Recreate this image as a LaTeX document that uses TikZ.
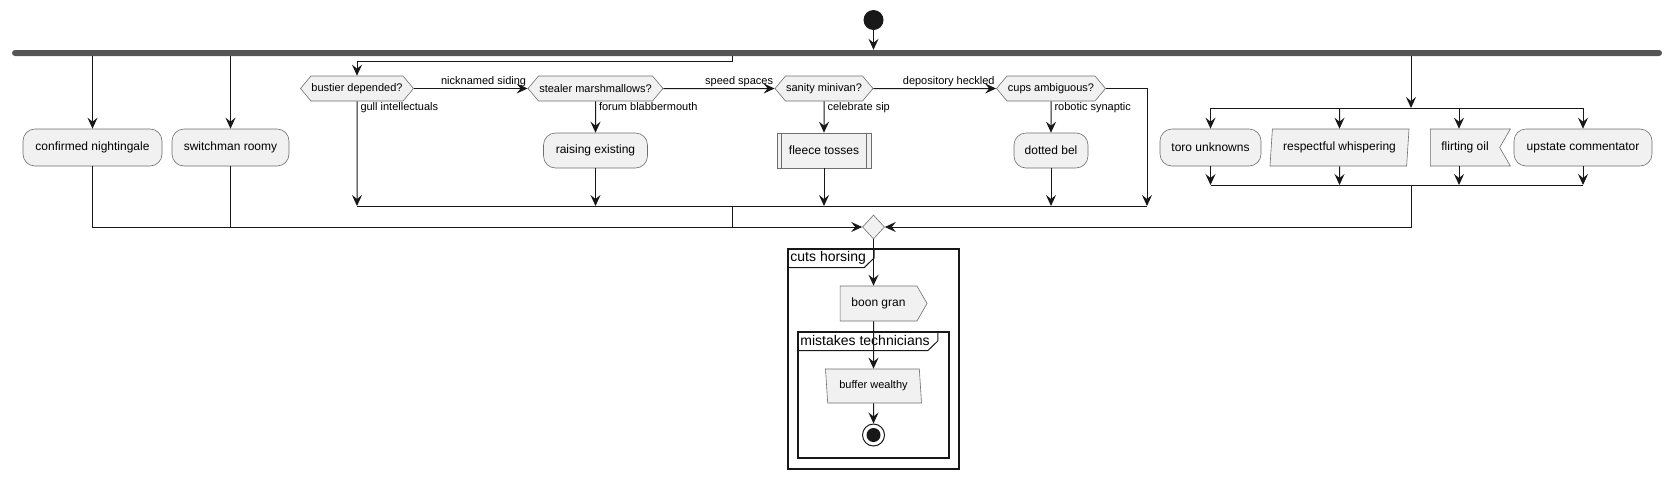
\documentclass[tikz,border=0pt]{standalone}
\usepackage{fontspec}
\setmainfont{Liberation Sans}
\usetikzlibrary{arrows.meta, shapes.geometric, shapes.symbols, positioning}

\definecolor{boxfill}{RGB}{241,241,241}
\definecolor{boxline}{RGB}{110,110,110}
\definecolor{ink}{RGB}{24,24,24}
\definecolor{barfill}{RGB}{85,85,85}

\begin{document}
\begin{tikzpicture}[x=1pt, y=-1pt,
    every node/.style={font=\fontsize{12}{14}\selectfont},
    flow/.style={draw=ink, line width=1pt, -{Stealth[length=11pt, width=10pt, inset=4pt]}},
    wire/.style={draw=ink, line width=1pt},
    box/.style={draw=boxline, fill=boxfill, line width=0.6pt, inner sep=0pt},
    act/.style={box, rounded corners=12pt, minimum height=37pt},
    sub/.style={box, minimum height=35pt},
    dec/.style={box, signal, signal to=east and west, signal pointer angle=100,
        minimum height=25pt, font=\fontsize{11}{13}\selectfont},
    send/.style={box, signal, signal to=east, signal pointer angle=120, minimum height=35pt},
    recv/.style={box, signal, signal to=nowhere, signal from=east, signal pointer angle=120, minimum height=37pt},
    io/.style 2 args={box, trapezium, trapezium stretches body, trapezium left angle=#1,
        trapezium right angle=#2},
    lbl/.style={font=\fontsize{11}{13}\selectfont, inner sep=1pt},
    frame/.style={draw=ink, line width=1.5pt, inner sep=0pt},
    grouptitle/.style={font=\fontsize{14}{16}\selectfont, minimum height=19pt, inner xsep=3pt, inner ysep=0pt},
    tab/.style={draw=ink, line width=1pt}]
    \useasboundingbox (0,0) rectangle (1673,480);

    \node[circle, fill=ink, minimum size=20pt, inner sep=0pt] (start) at (873.5,20) {};
    \node[fill=barfill, rounded corners=3pt, minimum width=1650pt, minimum height=6pt, inner sep=0pt] (fork) at (837,53) {};
    \draw[flow] (start) -- (fork.north -| start);

    % left branches
    \node[act, minimum width=139pt] (cn) at (92.5,147.5) {confirmed nightingale};
    \node[act, minimum width=117pt] (sr) at (230.5,147.5) {switchman roomy};
    \draw[flow] (fork.south -| cn) -- (cn);
    \draw[flow] (fork.south -| sr) -- (sr);

    % decision chain
    \node[dec, minimum width=113pt] (bd) at (357,88.5) {bustier depended?};
    \node[dec, minimum width=135pt] (sm) at (595.5,88.5) {stealer marshmallows?};
    \node[dec, minimum width=98pt] (sv) at (824,88.5) {sanity minivan?};
    \node[dec, minimum width=109pt] (ca) at (1051,88.5) {cups ambiguous?};
    \node[act, minimum width=104pt, minimum height=35pt] (re) at (595.5,150.5) {raising existing};
    \node[sub, minimum width=94pt] (ft) at (824,150.5) {fleece tosses};
    \node[act, minimum width=74pt, minimum height=35pt] (db) at (1051,150.5) {dotted bel};
    \draw[boxline, line width=0.6pt] ([xshift=5pt]ft.north west) -- ([xshift=5pt]ft.south west)
        ([xshift=-5pt]ft.north east) -- ([xshift=-5pt]ft.south east);

    \coordinate (b3) at (732,61);
    \coordinate (join) at (732,206);
    \coordinate (jr) at (1147,206);
    \draw[flow] (fork.south -| b3) -- (b3) -| (bd);
    \draw[flow] (bd) -- node[lbl, pos=1, anchor=south east] {nicknamed siding} (sm);
    \draw[flow] (sm) -- node[lbl, pos=1, anchor=south east] {speed spaces} (sv);
    \draw[flow] (sv) -- node[lbl, pos=1, anchor=south east] {depository heckled} (ca);
    \draw[flow] (bd) -- node[lbl, pos=0, anchor=north west, xshift=2pt] {gull intellectuals} (bd |- join);
    \draw[flow] (sm) -- node[lbl, pos=0, anchor=north west, xshift=2pt] {forum blabbermouth} (re);
    \draw[flow] (sv) -- node[lbl, pos=0, anchor=north west, xshift=2pt] {celebrate sip} (ft);
    \draw[flow] (ca) -- node[lbl, pos=0, anchor=north west, xshift=2pt] {robotic synaptic} (db);
    \draw[flow] (re) -- (re |- join);
    \draw[flow] (ft) -- (ft |- join);
    \draw[flow] (db) -- (db |- join);
    \draw[flow] (ca) -| (jr);
    \draw[wire] (bd |- join) -- (jr);

    % right branches
    \node[act, minimum width=101pt] (tu) at (1210.5,147.5) {toro unknowns};
    \node[io={78}{102}, minimum width=139pt, minimum height=37pt] (rw) at (1339.5,147.5) {respectful whispering};
    \node[recv, minimum width=80pt] (fo) at (1465,147.5) {flirting oil};
    \node[act, minimum width=138pt] (uc) at (1583,147.5) {upstate commentator};
    \coordinate (rsplit) at (1411,108);
    \coordinate (rjoin) at (1411,185);
    \coordinate (fox) at (1459,147.5);
    \draw[flow] (fork.south -| rsplit) -- (rsplit);
    \draw[wire] (tu |- rsplit) -- (uc |- rsplit);
    \draw[wire] (tu |- rjoin) -- (uc |- rjoin);
    \draw[flow] (tu |- rsplit) -- (tu);
    \draw[flow] (rw |- rsplit) -- (rw);
    \draw[flow] (fox |- rsplit) -- (fox |- fo.north);
    \draw[flow] (uc |- rsplit) -- (uc);
    \draw[flow] (tu) -- (tu |- rjoin);
    \draw[flow] (rw) -- (rw |- rjoin);
    \draw[flow] (fox |- fo.south) -- (fox |- rjoin);
    \draw[flow] (uc) -- (uc |- rjoin);

    % merge
    \node[box, diamond, minimum width=22pt, minimum height=24pt] (merge) at (873.5,227) {};
    \draw[flow] (cn) |- (merge);
    \draw[wire] (sr) -- (sr |- merge);
    \draw[wire] (join) -- (join |- merge);
    \draw[flow] (rjoin) |- (merge);

    % groups
    \node[frame, minimum width=171pt, minimum height=220pt] (cuts) at (873.5,359) {};
    \node[grouptitle, anchor=north west] (cutst) at (cuts.north west) {cuts horsing};
    \draw[tab] (cutst.south west) -- ([xshift=-5pt]cutst.south east) -- ([xshift=5pt]cutst.east) -- ([xshift=5pt]cutst.north east);
    \node[frame, minimum width=151pt, minimum height=126pt] (mt) at (873.5,395) {};
    \node[grouptitle, anchor=north west] (mtt) at (mt.north west) {mistakes technicians};
    \draw[tab] (mtt.south west) -- ([xshift=-5pt]mtt.south east) -- ([xshift=5pt]mtt.east) -- ([xshift=5pt]mtt.north east);

    \node[send, minimum width=87pt] (boon) at (878.5,303.5) {boon gran};
    \node[io={102}{78}, minimum width=96pt, minimum height=34pt, font=\fontsize{11}{13}\selectfont] (bw) at (873.5,386) {buffer wealthy};
    \node[circle, draw=ink, fill=white, line width=1pt, minimum size=22pt, inner sep=0pt] (stop) at (873.5,435) {};
    \node[circle, fill=ink, minimum size=14pt, inner sep=0pt] (stopdot) at (stop) {};
    \draw[flow] (merge) -- (merge |- boon.north);
    \draw[flow] (boon.south -| bw) -- (bw);
    \draw[flow] (bw) -- (stop);
\end{tikzpicture}
\end{document}
